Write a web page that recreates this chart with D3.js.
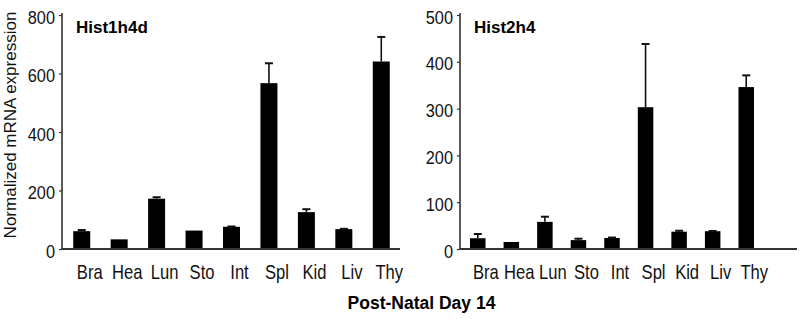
<!DOCTYPE html>
<html>
<head>
<meta charset="utf-8">
<script src="https://cdn.jsdelivr.net/npm/d3@7"></script>
<style>
  html, body { margin: 0; padding: 0; background: #fff; }
  svg { display: block; font-family: "Liberation Sans", Arial, sans-serif; }
</style>
</head>
<body>
<svg id="chart" width="800" height="319"></svg>
<script>
// ---- data ----
const categories = ["Bra", "Hea", "Lun", "Sto", "Int", "Spl", "Kid", "Liv", "Thy"];
const hist1h4dValues = [61, 33, 172, 63, 76, 567, 126, 68, 641];
const hist1h4dErrors = [4, 0, 5, 0, 1, 68, 10, 1, 84];
const hist1h4dTicks = [0, 200, 400, 600, 800];
const hist2h4Values = [23, 15, 58, 19, 23.5, 303, 37, 38, 346];
const hist2h4Errors = [9, 0, 11, 3, 1, 135, 2, 0.5, 25];
const hist2h4Ticks = [0, 100, 200, 300, 400, 500];
const yAxisTitle = "Normalized mRNA expression";
const xAxisTitle = "Post-Natal Day 14";

const svg = d3.select("#chart");
const axisColor = "#333";

const panels = [
  { title: "Hist1h4d", values: hist1h4dValues, errors: hist1h4dErrors, ticks: hist1h4dTicks,
    max: 800, x0: 62, bandStart: 63, bandEnd: 400, axisEnd: 400, barW: 17, titleX: 76 },
  { title: "Hist2h4", values: hist2h4Values, errors: hist2h4Errors, ticks: hist2h4Ticks,
    max: 500, x0: 460, bandStart: 461, bandEnd: 763, axisEnd: 797, barW: 15.5, titleX: 474 }
];

const yBottom = 249, yTop = 15;

panels.forEach(p => {
  const g = svg.append("g");
  const y = d3.scaleLinear().domain([0, p.max]).range([yBottom, yTop]);
  const x = d3.scaleBand().domain(categories).range([p.bandStart, p.bandEnd]);

  // bars
  g.selectAll("rect.bar").data(categories).join("rect")
    .attr("class", "bar")
    .attr("x", d => x(d) + x.bandwidth() / 2 - p.barW / 2)
    .attr("width", p.barW)
    .attr("y", (d, i) => y(p.values[i]))
    .attr("height", (d, i) => yBottom - y(p.values[i]))
    .attr("fill", "#000");

  // error bars (upper only)
  const eb = g.selectAll("g.err").data(categories).join("g").attr("class", "err")
    .filter((d, i) => p.errors[i] > 0);
  eb.append("line")
    .attr("x1", d => x(d) + x.bandwidth() / 2)
    .attr("x2", d => x(d) + x.bandwidth() / 2)
    .attr("y1", d => y(p.values[categories.indexOf(d)]))
    .attr("y2", d => { const i = categories.indexOf(d); return y(p.values[i] + p.errors[i]); })
    .attr("stroke", "#111").attr("stroke-width", 1.6);
  eb.append("line")
    .attr("x1", d => x(d) + x.bandwidth() / 2 - 4)
    .attr("x2", d => x(d) + x.bandwidth() / 2 + 4)
    .attr("y1", d => { const i = categories.indexOf(d); return y(p.values[i] + p.errors[i]); })
    .attr("y2", d => { const i = categories.indexOf(d); return y(p.values[i] + p.errors[i]); })
    .attr("stroke", "#111").attr("stroke-width", 2);

  // y axis
  const ya = g.append("g").attr("transform", `translate(${p.x0},0)`)
    .call(d3.axisLeft(y).tickValues(p.ticks).tickSize(3).tickSizeOuter(0).tickFormat(d3.format("d")));
  ya.select(".domain").remove();
  ya.selectAll(".tick line").attr("stroke", axisColor).attr("stroke-width", 1.2);
  ya.selectAll(".tick text")
    .attr("x", null).attr("dy", null)
    .attr("transform", "translate(-7,8) scale(0.86,1)")
    .attr("fill", "#111")
    .style("font-size", "19px");
  g.append("line")
    .attr("x1", p.x0).attr("x2", p.x0)
    .attr("y1", yTop - 2).attr("y2", yBottom)
    .attr("stroke", axisColor).attr("stroke-width", 1.6);

  // x axis baseline
  g.append("line")
    .attr("x1", p.x0).attr("x2", p.axisEnd)
    .attr("y1", yBottom).attr("y2", yBottom)
    .attr("stroke", axisColor).attr("stroke-width", 1.8);

  // x labels
  g.selectAll("text.xl").data(categories).join("text")
    .attr("class", "xl")
    .attr("transform", d => `translate(${x(d) + x.bandwidth() / 2 + 8},279) scale(0.83,1)`)
    .attr("text-anchor", "middle")
    .attr("fill", "#111")
    .style("font-size", "20px")
    .text(d => d);

  // panel title
  g.append("text")
    .attr("x", p.titleX).attr("y", 33)
    .attr("fill", "#000")
    .style("font-size", "17px").style("font-weight", "bold")
    .text(p.title);
});

// y axis title
svg.append("text")
  .attr("transform", "translate(16,125) rotate(-90)")
  .attr("text-anchor", "middle")
  .attr("fill", "#111")
  .style("font-size", "17px")
  .text(yAxisTitle);

// x axis title
svg.append("text")
  .attr("x", 421.5).attr("y", 309)
  .attr("text-anchor", "middle")
  .attr("fill", "#000")
  .style("font-size", "17.5px").style("font-weight", "bold")
  .text(xAxisTitle);
</script>
</body>
</html>
